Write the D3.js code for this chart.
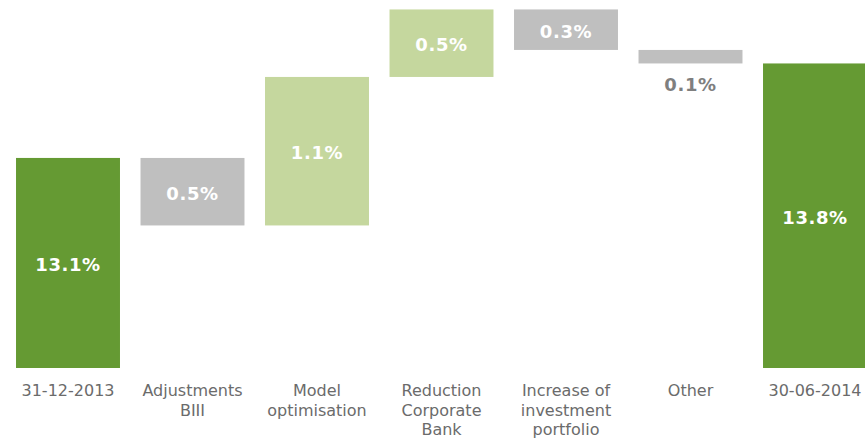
<!DOCTYPE html>
<html>
<head>
<meta charset="utf-8">
<script src="https://cdn.jsdelivr.net/npm/d3@7"></script>
<style>
  body { margin: 0; background: #fff; }
  svg { display: block; }
</style>
</head>
<body>
<svg id="chart" width="865" height="438"></svg>
<script>
// waterfall data
var categories = ["31-12-2013", "Adjustments BIII", "Model optimisation", "Reduction Corporate Bank", "Increase of investment portfolio", "Other", "30-06-2014"];
var catLines = [["31-12-2013"], ["Adjustments", "BIII"], ["Model", "optimisation"], ["Reduction", "Corporate", "Bank"], ["Increase of", "investment", "portfolio"], ["Other"], ["30-06-2014"]];
var deltas = [13.1, -0.5, 1.1, 0.5, -0.3, -0.1, 13.8];
var kinds = ["total", "down", "up", "up", "down", "down", "total"];
var valueLabels = ["13.1%", "0.5%", "1.1%", "0.5%", "0.3%", "0.1%", "13.8%"];

var colors = { total: "#659a33", up: "#c5d79e", down: "#bfbfbf" };

// build running start/end
var run = 0;
var rows = categories.map(function(c, i) {
	var s, e;
	if (kinds[i] == "total") { s = null; e = deltas[i]; run = deltas[i]; }
	else { s = run; e = run + deltas[i]; run = e; }
	return { cat: c, lines: catLines[i], kind: kinds[i], start: s, end: e, label: valueLabels[i] };
});

var svg = d3.select("#chart");
var baseY = 368;

var x = d3.scaleBand()
	.domain(categories)
	.range([5.75, 877.25])
	.paddingInner(0.165)
	.paddingOuter(0.0825);

// truncated axis (value at baseline ~11.54)
var y = d3.scaleLinear()
	.domain([11.544, 14.27])
	.range([baseY, 0]);

function barTop(d) { return d.kind == "total" ? y(d.end) : y(Math.max(d.start, d.end)); }
function barBot(d) { return d.kind == "total" ? baseY : y(Math.min(d.start, d.end)); }

var bars = svg.append("g").attr("class", "bars")
	.selectAll("g")
	.data(rows)
	.enter()
	.append("g");

bars.append("rect")
	.attr("x", function(d) { return x(d.cat); })
	.attr("width", x.bandwidth())
	.attr("y", barTop)
	.attr("height", function(d) { return barBot(d) - barTop(d); })
	.attr("fill", function(d) { return colors[d.kind]; });

// value labels (thin bar -> label underneath, gray)
bars.append("text")
	.attr("x", function(d) { return x(d.cat) + x.bandwidth() / 2; })
	.attr("y", function(d) {
		var top = barTop(d), bot = barBot(d);
		if (bot - top < 24) return bot + 28;
		return (top + bot) / 2 + 8;
	})
	.attr("text-anchor", "middle")
	.attr("font-family", "'DejaVu Sans', Verdana, sans-serif")
	.attr("font-weight", "bold")
	.attr("font-size", "18px")
	.attr("letter-spacing", "0.6px")
	.attr("fill", function(d) {
		return (barBot(d) - barTop(d) < 24) ? "#7f7f7f" : "#fff";
	})
	.text(function(d) { return d.label; });

// category labels
var cats = svg.append("g").attr("class", "cats")
	.selectAll("text")
	.data(rows)
	.enter()
	.append("text")
	.attr("x", function(d) { return x(d.cat) + x.bandwidth() / 2; })
	.attr("y", 396)
	.attr("text-anchor", "middle")
	.attr("font-family", "'DejaVu Sans', Verdana, sans-serif")
	.attr("font-size", "16px")
	.attr("fill", "#6b6b6b");

cats.each(function(d) {
	var t = d3.select(this);
	d.lines.forEach(function(l, i) {
		t.append("tspan")
			.attr("x", x(d.cat) + x.bandwidth() / 2)
			.attr("dy", i == 0 ? 0 : 19.5)
			.text(l);
	});
});
</script>
</body>
</html>
